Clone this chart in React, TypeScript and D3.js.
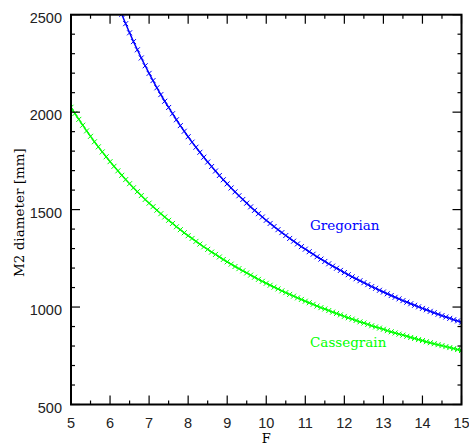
import React from "react";
import * as d3 from "d3";

const fValues: number[] = [
  5.0, 5.1, 5.2, 5.3, 5.4, 5.5, 5.6, 5.7, 5.8, 5.9,
  6.0, 6.1, 6.2, 6.3, 6.4, 6.5, 6.6, 6.7, 6.8, 6.9,
  7.0, 7.1, 7.2, 7.3, 7.4, 7.5, 7.6, 7.7, 7.8, 7.9,
  8.0, 8.1, 8.2, 8.3, 8.4, 8.5, 8.6, 8.7, 8.8, 8.9,
  9.0, 9.1, 9.2, 9.3, 9.4, 9.5, 9.6, 9.7, 9.8, 9.9,
  10.0, 10.1, 10.2, 10.3, 10.4, 10.5, 10.6, 10.7, 10.8, 10.9,
  11.0, 11.1, 11.2, 11.3, 11.4, 11.5, 11.6, 11.7, 11.8, 11.9,
  12.0, 12.1, 12.2, 12.3, 12.4, 12.5, 12.6, 12.7, 12.8, 12.9,
  13.0, 13.1, 13.2, 13.3, 13.4, 13.5, 13.6, 13.7, 13.8, 13.9,
  14.0, 14.1, 14.2, 14.3, 14.4, 14.5, 14.6, 14.7, 14.8, 14.9,
  15.0,
];

const cassegrain: number[] = [
  2025, 1993, 1963, 1933, 1904, 1876, 1848, 1822, 1796, 1771,
  1746, 1722, 1699, 1676, 1654, 1633, 1612, 1592, 1572, 1552,
  1533, 1515, 1497, 1479, 1462, 1445, 1429, 1412, 1397, 1381,
  1366, 1352, 1337, 1323, 1309, 1296, 1282, 1270, 1257, 1244,
  1232, 1220, 1208, 1197, 1186, 1175, 1164, 1153, 1142, 1132,
  1122, 1112, 1102, 1093, 1083, 1074, 1065, 1056, 1047, 1039,
  1030, 1022, 1014, 1005, 997, 990, 982, 974, 967, 960,
  952, 945, 938, 931, 924, 918, 911, 904, 898, 892,
  886, 879, 873, 867, 861, 856, 850, 844, 839, 833,
  828, 822, 817, 812, 807, 802, 797, 792, 787, 782,
  777,
];

const gregorian: (number | null)[] = [
  null, null, null, null, null, null, null, null, null, null,
  null, null, 2552, 2502, 2454, 2407, 2362, 2320, 2278, 2238,
  2199, 2162, 2125, 2090, 2056, 2024, 1992, 1961, 1931, 1902,
  1874, 1846, 1820, 1794, 1769, 1744, 1721, 1698, 1675, 1653,
  1632, 1611, 1591, 1571, 1552, 1533, 1514, 1496, 1479, 1462,
  1445, 1429, 1413, 1397, 1382, 1367, 1352, 1338, 1324, 1310,
  1297, 1284, 1271, 1258, 1246, 1234, 1222, 1210, 1199, 1188,
  1177, 1166, 1155, 1145, 1135, 1125, 1115, 1105, 1096, 1086,
  1077, 1068, 1059, 1050, 1042, 1033, 1025, 1017, 1009, 1001,
  993, 986, 978, 971, 963, 956, 949, 942, 935, 929,
  922,
];

const xTickLabels: number[] = [5, 6, 7, 8, 9, 10, 11, 12, 13, 14, 15];
const yTickLabels: number[] = [500, 1000, 1500, 2000, 2500];

const seriesNames = ["Gregorian", "Cassegrain"];
const seriesColors = ["#0000ff", "#00ff00"];

const W = 469;
const H = 443;
const left = 71;
const right = 461.5;
const top = 14.7;
const bottom = 404.5;

export default function App() {
  const x = d3.scaleLinear().domain([5, 15]).range([left, right]);
  const y = d3.scaleLinear().domain([500, 2500]).range([bottom, top]);

  const xMinor = d3.range(5, 15.001, 0.5);
  const yMinor = d3.range(500, 2500.001, 100);

  const series = [gregorian, cassegrain];

  const line = d3
    .line<{ f: number; v: number | null }>()
    .defined((d) => d.v != null)
    .x((d) => x(d.f))
    .y((d) => y(d.v as number));

  const crossPath = "M-2.5,-2.5L2.5,2.5M-2.5,2.5L2.5,-2.5";
  const sans = "'Liberation Sans', Arial, sans-serif";
  const serif = "'DejaVu Serif', serif";

  return (
    <svg
      width={W}
      height={H}
      style={{ position: "absolute", left: 0, top: 0, background: "#fff" }}
    >
      <defs>
        <clipPath id="plotclip">
          <rect x={left} y={top} width={right - left} height={bottom - top} />
        </clipPath>
      </defs>
      <rect x={0} y={0} width={W} height={H} fill="#fff" />

      <g clipPath="url(#plotclip)">
        {series.map((vals, si) => {
          const pts = fValues.map((f, i) => ({ f, v: vals[i] }));
          return (
            <g key={si}>
              <path
                d={line(pts) || ""}
                fill="none"
                stroke={seriesColors[si]}
                strokeWidth={1.5}
              />
              {pts
                .filter((p) => p.v != null)
                .map((p, i) => (
                  <path
                    key={i}
                    d={crossPath}
                    transform={`translate(${x(p.f)},${y(p.v as number)})`}
                    stroke={seriesColors[si]}
                    strokeWidth={1}
                    fill="none"
                  />
                ))}
            </g>
          );
        })}
      </g>

      {/* ticks */}
      <g stroke="#000" strokeWidth={1.2}>
        {xMinor.map((f, i) => {
          const major = Math.abs(f - Math.round(f)) < 1e-6;
          const len = major ? 9 : 4;
          return (
            <g key={"xt" + i}>
              <line x1={x(f)} x2={x(f)} y1={bottom} y2={bottom - len} />
              <line x1={x(f)} x2={x(f)} y1={top} y2={top + len} />
            </g>
          );
        })}
        {yMinor.map((v, i) => {
          const major = v % 500 === 0;
          const len = major ? 9 : 4;
          return (
            <g key={"yt" + i}>
              <line x1={left} x2={left + len} y1={y(v)} y2={y(v)} />
              <line x1={right} x2={right - len} y1={y(v)} y2={y(v)} />
            </g>
          );
        })}
      </g>

      {/* frame */}
      <rect
        x={left}
        y={top}
        width={right - left}
        height={bottom - top}
        fill="none"
        stroke="#000"
        strokeWidth={2}
      />

      {/* tick labels */}
      {xTickLabels.map((t) => (
        <text
          key={"xl" + t}
          x={x(t)}
          y={bottom + 23.5}
          textAnchor="middle"
          fontFamily={sans}
          fontSize={14.5}
          fill="#222"
        >
          {t}
        </text>
      ))}
      {yTickLabels.map((t) => (
        <text
          key={"yl" + t}
          x={62}
          y={y(t) + 8}
          textAnchor="end"
          fontFamily={sans}
          fontSize={14.5}
          fill="#222"
        >
          {t}
        </text>
      ))}

      {/* axis titles */}
      <text
        x={(left + right) / 2}
        y={443}
        textAnchor="middle"
        fontFamily={serif}
        fontSize={13}
        fill="#000"
      >
        F
      </text>
      <text
        transform={`translate(23.5,${(top + bottom) / 2 + 3}) rotate(-90)`}
        textAnchor="middle"
        fontFamily={serif}
        fontSize={13.5}
        fill="#000"
      >
        M2 diameter [mm]
      </text>

      {/* series labels */}
      <text x={310} y={230} fontFamily={serif} fontSize={13.5} fill={seriesColors[0]}>
        {seriesNames[0]}
      </text>
      <text x={310} y={347} fontFamily={serif} fontSize={13.5} fill={seriesColors[1]}>
        {seriesNames[1]}
      </text>
    </svg>
  );
}
